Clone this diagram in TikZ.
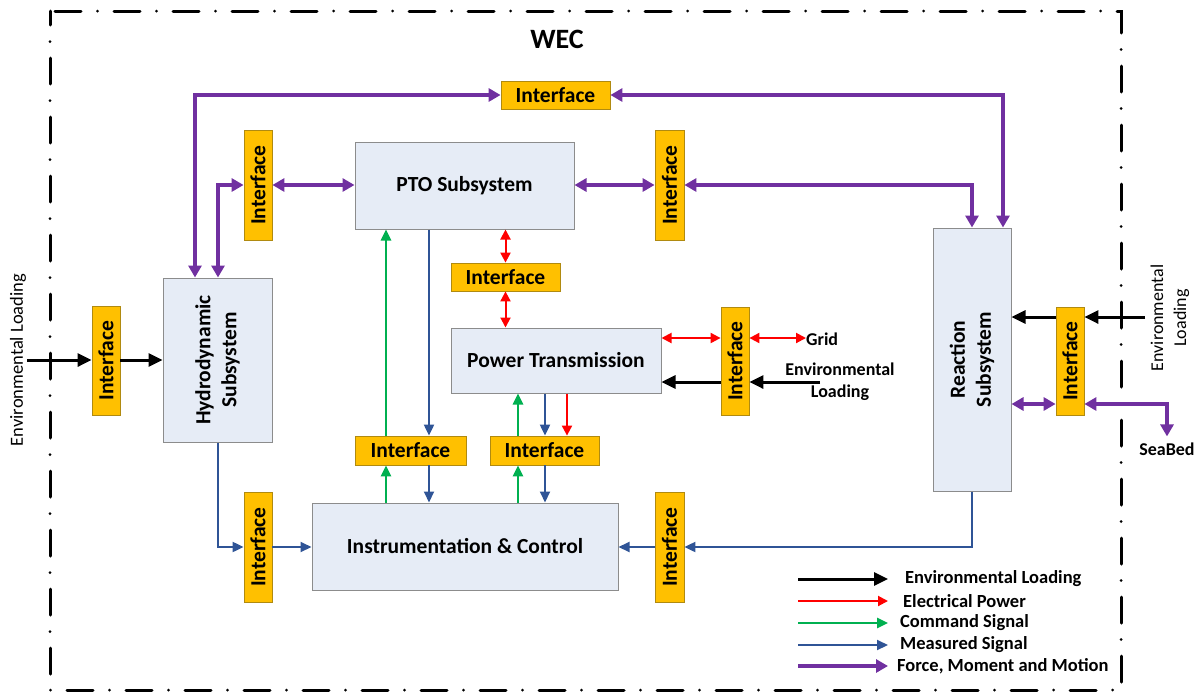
\documentclass[tikz,border=0pt]{standalone}
\usepackage{fontspec}
\setmainfont{Carlito}
\usetikzlibrary{arrows.meta}
\definecolor{boxfill}{HTML}{E6ECF6}
\definecolor{boxline}{HTML}{8C8C8C}
\definecolor{iffill}{HTML}{FFC000}
\definecolor{ifline}{HTML}{B08A10}
\definecolor{fmm}{HTML}{7030A0}
\definecolor{meas}{HTML}{2F5496}
\definecolor{cmd}{HTML}{00B050}
\definecolor{elec}{HTML}{FF0000}

\begin{document}
\begin{tikzpicture}[x=1pt,y=-1pt,
  subsys/.style={draw=boxline, fill=boxfill, line width=1pt, inner sep=0pt,
    font=\bfseries\fontsize{21.5}{26}\selectfont},
  subtext/.style={inner sep=0pt, align=center, font=\bfseries\fontsize{21.5}{26}\selectfont},
  ifh/.style={draw=ifline, fill=iffill, line width=0.8pt, inner sep=0pt,
    minimum width=109pt, minimum height=28pt, font=\bfseries\fontsize{21.5}{24}\selectfont},
  ifv/.style={ifh, minimum width=28pt, minimum height=110pt},
  lbl/.style={inner sep=0pt, align=center, font=\bfseries\fontsize{18}{22}\selectfont},
  lglbl/.style={inner sep=0pt, anchor=west, font=\bfseries\fontsize{18.5}{22}\selectfont},
  envline/.style={draw=black, line width=3pt, >={Triangle[length=14pt,width=13pt]}},
  elecline/.style={draw=elec, line width=2pt, >={Triangle[length=10pt,width=10pt]}},
  cmdline/.style={draw=cmd, line width=2.5pt, >={Triangle[length=11pt,width=10pt]}},
  measline/.style={draw=meas, line width=2pt, >={Triangle[length=11pt,width=10pt]}},
  fmmline/.style={draw=fmm, line width=3.5pt, >={Triangle[length=12pt,width=13pt]}},
  frame/.style={draw=black, line width=3pt, line cap=round,
    dash pattern=on 26pt off 16.5pt on 0pt off 16.5pt, dash phase=-5pt}
]
\useasboundingbox (0,0) rectangle (1200,694);

% system boundary
\draw[frame] (50,11) -- (1121,11) -- (1121,690) -- (50,690) -- cycle;
\node[inner sep=0pt, font=\bfseries\fontsize{28}{32}\selectfont] (wec) at (557,39) {WEC};

% subsystems
\node[subsys, minimum width=109pt, minimum height=164pt] (hyd) at (217.5,360) {};
\node[subtext, rotate=90] (hydtxt) at (hyd.center) {Hydrodynamic\\Subsystem};
\node[subsys, minimum width=219pt, minimum height=87pt] (pto) at (464.5,185.5) {PTO Subsystem};
\node[subsys, minimum width=210pt, minimum height=65pt] (pt) at (556,360.5) {Power Transmission};
\node[subsys, minimum width=306pt, minimum height=87pt] (ic) at (465,546.5) {Instrumentation \& Control};
\node[subsys, minimum width=78pt, minimum height=263pt] (rea) at (972,359.5) {};
\node[subtext, rotate=90] (reatxt) at (rea.center) {Reaction\\Subsystem};

% interfaces
\node[ifh] (ifTop) at (555.5,95) {Interface};
\node[ifv] (ifPtoL) at (258,185) {\rotatebox{90}{Interface}};
\node[ifv, minimum width=29pt] (ifPtoR) at (669.5,185) {\rotatebox{90}{Interface}};
\node[ifh] (ifMid) at (505.5,277) {Interface};
\node[ifv, minimum height=109pt] (ifHyd) at (106,360.5) {\rotatebox{90}{Interface}};
\node[ifv, minimum height=108pt] (ifPtR) at (735,361) {\rotatebox{90}{Interface}};
\node[ifv, minimum height=108pt] (ifRea) at (1070,361) {\rotatebox{90}{Interface}};
\node[ifv] (ifIcL) at (258,547) {\rotatebox{90}{Interface}};
\node[ifv, minimum width=29pt] (ifIcR) at (669.5,547) {\rotatebox{90}{Interface}};
\node[ifh, minimum width=111pt, minimum height=29pt] (ifB1) at (410.5,450.5) {Interface};
\node[ifh, minimum height=29pt] (ifB2) at (544.5,450.5) {Interface};

% environmental loading
\coordinate (envL) at (27,360);
\node[inner sep=0pt, rotate=90, font=\fontsize{18.5}{22}\selectfont] (envLtxt) at (18,360) {Environmental Loading};
\draw[envline,->] (envL) -- (envL -| ifHyd.west);
\draw[envline,->] (ifHyd.east |- envL) -- (envL -| hyd.west);

\coordinate (envM) at (820,382);
\draw[envline,->] (envM) -- (envM -| ifPtR.east);
\draw[envline,->] (ifPtR.west |- envM) -- (envM -| pt.east);
\node[lbl] (envMtxt) at (840,382) {Environmental\\Loading};

\coordinate (envR) at (1145,317);
\draw[envline,->] (envR) -- (envR -| ifRea.east);
\draw[envline,->] (ifRea.west |- envR) -- (envR -| rea.east);
\node[lbl, rotate=90, font=\fontsize{18}{23}\selectfont] (envRtxt) at (1170,318) {Environmental\\Loading};

% force, moment and motion
\coordinate (fa) at (195,0);
\coordinate (fb) at (218,0);
\coordinate (fc) at (1003,0);
\draw[fmmline,<->] (fa |- hyd.north) |- (ifTop.west);
\draw[fmmline,<->] (fb |- hyd.north) |- (ifPtoL.west);
\draw[fmmline,<->] (ifPtoL.east) -- (ifPtoL.east -| pto.west);
\draw[fmmline,<->] (pto.east |- ifPtoR.west) -- (ifPtoR.west);
\draw[fmmline,<->] (ifPtoR.east) -| (rea.north);
\draw[fmmline,<->] (ifTop.east) -| (fc |- rea.north);

\coordinate (sbY) at (0,404);
\node[lbl] (seabed) at (1167,449) {SeaBed};
\draw[fmmline,<->] (rea.east |- sbY) -- (ifRea.west |- sbY);
\draw[fmmline,<->] (ifRea.east |- sbY) -| ([yshift=6pt]seabed.north);

% electrical power
\coordinate (ey) at (0,338);
\node[lbl, anchor=west] (grid) at (806,339) {Grid};
\draw[elecline,<->] (ifMid.north |- pto.south) -- (ifMid.north);
\draw[elecline,<->] (ifMid.south) -- (ifMid.south |- pt.north);
\draw[elecline,<->] (pt.east |- ey) -- (ifPtR.west |- ey);
\draw[elecline,<->] (ifPtR.east |- ey) -- (grid.west |- ey);

% command and measured signals
\coordinate (g1) at (386,0);
\coordinate (b1) at (429,0);
\coordinate (g2) at (518,0);
\coordinate (b2) at (545,0);
\coordinate (r2) at (567,0);
\draw[cmdline,->] (g1 |- ic.north) -- (g1 |- ifB1.south);
\draw[cmdline,->] (g1 |- ifB1.north) -- (g1 |- pto.south);
\draw[measline,->] (b1 |- pto.south) -- (b1 |- ifB1.north);
\draw[measline,->] (b1 |- ifB1.south) -- (b1 |- ic.north);
\draw[cmdline,->] (g2 |- ic.north) -- (g2 |- ifB2.south);
\draw[cmdline,->] (g2 |- ifB2.north) -- (g2 |- pt.south);
\draw[measline,->] (b2 |- pt.south) -- (b2 |- ifB2.north);
\draw[measline,->] (b2 |- ifB2.south) -- (b2 |- ic.north);
\draw[elecline,->] (r2 |- pt.south) -- (r2 |- ifB2.north);

\draw[measline,->] (hyd.south) |- (ifIcL.west);
\draw[measline,->] (ifIcL.east) -- (ifIcL.east -| ic.west);
\draw[measline,->] (rea.south) |- (ifIcR.east);
\draw[measline,->] (ifIcR.west) -- (ifIcR.west -| ic.east);

% legend
\coordinate (la1) at (798,579); \coordinate (lb1) at (888,579);
\coordinate (la2) at (798,601); \coordinate (lb2) at (888,601);
\coordinate (la3) at (798,623); \coordinate (lb3) at (888,623);
\coordinate (la4) at (798,645); \coordinate (lb4) at (888,645);
\coordinate (la5) at (798,666); \coordinate (lb5) at (888,666);
\draw[envline,->] (la1) -- (lb1);
\draw[elecline,->] (la2) -- (lb2);
\draw[cmdline,->] (la3) -- (lb3);
\draw[measline,->] (la4) -- (lb4);
\draw[fmmline,->] (la5) -- (lb5);
\node[lglbl] (lt1) at (905,579) {Environmental Loading};
\node[lglbl] (lt2) at (903,601) {Electrical Power};
\node[lglbl] (lt3) at (900,623) {Command Signal};
\node[lglbl] (lt4) at (900,645) {Measured Signal};
\node[lglbl] (lt5) at (897,666) {Force, Moment and Motion};
\end{tikzpicture}
\end{document}
